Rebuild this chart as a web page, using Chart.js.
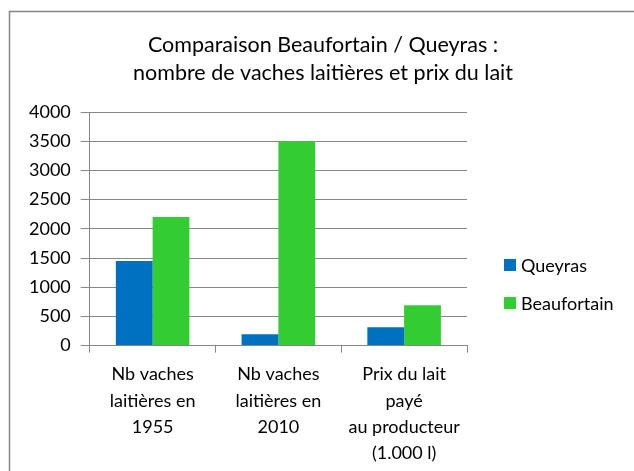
<!DOCTYPE html>
<html>
<head>
<meta charset="utf-8">
<script src="https://cdn.jsdelivr.net/npm/chart.js@4"></script>
<style>
html,body{margin:0;padding:0;background:#fff;overflow:hidden;}
#wrap{position:absolute;left:0;top:0;width:634px;height:479px;}
</style>
</head>
<body>
<div id="wrap"><canvas id="c" width="634" height="479"></canvas></div>
<script>
const categories = [
  ["Nb vaches", "laitières en", "1955"],
  ["Nb vaches", "laitières en", "2010"],
  ["Prix du lait", "payé", "au producteur", "(1.000 l)"]
];
const queyras = [1450, 195, 315];
const beaufortain = [2200, 3500, 690];
const titleLines = ["Comparaison Beaufortain / Queyras :", "nombre de vaches laitières et prix du lait"];

const FONT = "Lato, 'Open Sans', sans-serif";

const frame = {
  id: 'frame',
  beforeDraw(chart) {
    const ctx = chart.ctx;
    ctx.save();
    ctx.fillStyle = '#fff';
    ctx.fillRect(0, 0, chart.width, chart.height);
    ctx.strokeStyle = '#868686';
    ctx.lineWidth = 1.5;
    ctx.strokeRect(9.5, 11.5, 700, 600);
    ctx.restore();
  }
};

const sideTitleLegend = {
  id: 'sideTitleLegend',
  afterDraw(chart) {
    const ctx = chart.ctx;
    ctx.save();
    ctx.textBaseline = 'middle';
    ctx.fillStyle = '#000';
    ctx.textAlign = 'center';
    ctx.font = "21.5px " + FONT;
    titleLines.forEach((t, i) => ctx.fillText(t, 323, 45 + i * 28));
    ctx.font = "18px " + FONT;
    ctx.textAlign = 'left';
    chart.data.datasets.forEach((ds, i) => {
      const cy = 265 + i * 38;
      ctx.fillStyle = ds.backgroundColor;
      ctx.fillRect(504, cy - 6, 12, 12);
      ctx.fillStyle = '#000';
      ctx.fillText(ds.label, 521, cy + 1);
    });
    ctx.restore();
  }
};

new Chart(document.getElementById('c'), {
  type: 'bar',
  data: {
    labels: categories,
    datasets: [
      { label: 'Queyras', data: queyras, backgroundColor: '#0070C0', categoryPercentage: 0.585, barPercentage: 1.0 },
      { label: 'Beaufortain', data: beaufortain, backgroundColor: '#33CC33', categoryPercentage: 0.585, barPercentage: 1.0 }
    ]
  },
  options: {
    responsive: false,
    animation: false,
    layout: { padding: { left: 19, right: 167, top: 112, bottom: 4 } },
    plugins: {
      title: { display: false },
      legend: { display: false },
      tooltip: { enabled: false }
    },
    scales: {
      x: {
        grid: { drawOnChartArea: false, drawTicks: true, tickLength: 7, color: '#868686', offset: true },
        border: { color: '#868686', width: 1 },
        ticks: { color: '#000', font: { family: FONT, size: 18, lineHeight: 1.45 }, padding: 9, maxRotation: 0 }
      },
      y: {
        min: 0, max: 4000,
        ticks: { stepSize: 500, color: '#000', font: { family: FONT, size: 18 }, padding: 10,
                 callback: v => String(v) },
        grid: { color: '#868686', tickLength: 9 },
        border: { color: '#868686', width: 1 }
      }
    }
  },
  plugins: [frame, sideTitleLegend]
});
</script>
</body>
</html>
